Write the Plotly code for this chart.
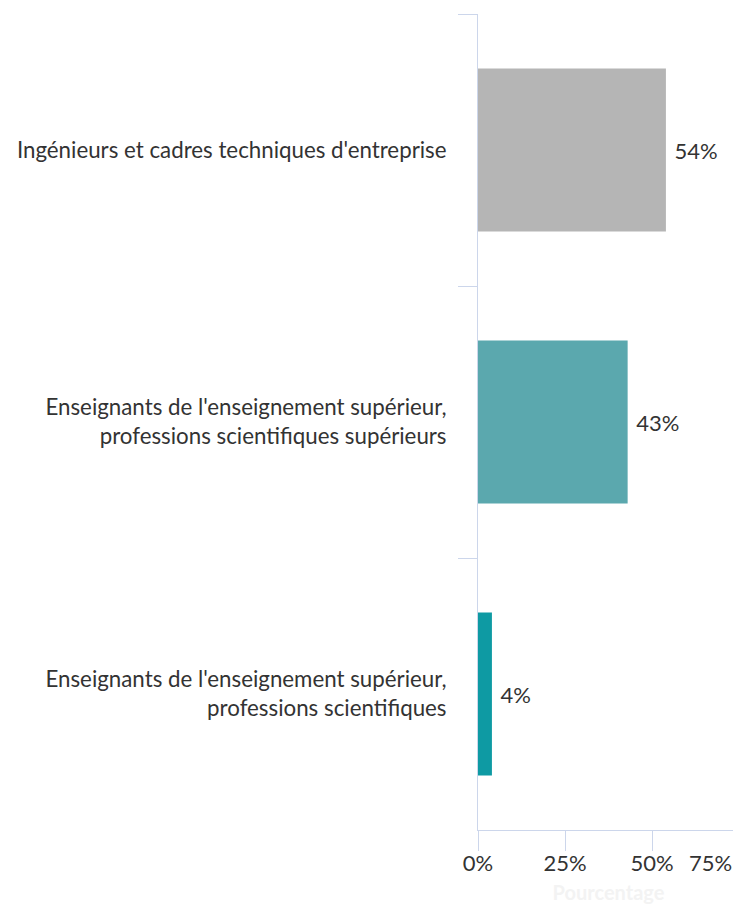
import plotly.graph_objects as go

categories = [
    "Ingénieurs et cadres techniques d'entreprise",
    "Enseignants de l'enseignement supérieur,<br>professions scientifiques supérieurs",
    "Enseignants de l'enseignement supérieur,<br>professions scientifiques",
]
values = [54, 43, 4]
bar_colors = ["#b5b5b5", "#5ba8ae", "#0e9aa3"]
tick_vals = [0, 25, 50, 75]
tick_text = ["0%", "25%", "50%", ""]
last_tick_text = "75%"

axis_color = "#ccd6eb"
text_color = "#333333"

fig = go.Figure()
fig.add_trace(
    go.Bar(
        x=values,
        y=categories,
        orientation="h",
        marker_color=bar_colors,
        marker_line_width=0,
        width=0.6,
        text=[f"\u00a0{v}%" for v in values],
        textposition="outside",
        textfont=dict(size=22, color=text_color, family="Lato"),
        cliponaxis=False,
        showlegend=False,
    )
)

# page body has an 8px margin, so the figure is sized/positioned for that
fig.update_layout(
    width=733,
    height=896,
    margin=dict(l=470, r=2, t=6, b=74),
    plot_bgcolor="white",
    paper_bgcolor="white",
    font=dict(family="Lato", size=22.3, color=text_color),
    bargap=0.4,
)

# the last tick label sits left of its tick, as in the original
fig.add_annotation(
    x=tick_vals[-1],
    xref="x",
    y=0,
    yref="paper",
    yanchor="top",
    xanchor="right",
    xshift=-5,
    yshift=-17,
    text=last_tick_text,
    showarrow=False,
    font=dict(size=22, color=text_color),
)

fig.update_xaxes(
    range=[0, 75],
    tickvals=tick_vals,
    ticktext=tick_text,
    showgrid=False,
    zeroline=False,
    showline=True,
    linecolor=axis_color,
    linewidth=1,
    ticks="outside",
    ticklen=20,
    tickcolor=axis_color,
    tickfont=dict(size=22, color=text_color),
    ticklabelstandoff=-6,
    automargin=False,
    title=dict(text="<b>Pourcentage</b>", font=dict(size=20, color="#f3f3f3"), standoff=13),
)
fig.update_yaxes(
    autorange="reversed",
    showgrid=False,
    zeroline=False,
    showline=True,
    linecolor=axis_color,
    linewidth=1,
    ticks="outside",
    tickson="boundaries",
    ticklen=19,
    tickcolor=axis_color,
    tickfont=dict(size=22.3, color=text_color),
    ticklabelstandoff=26,
    automargin=False,
)

fig.write_html("out.html")
